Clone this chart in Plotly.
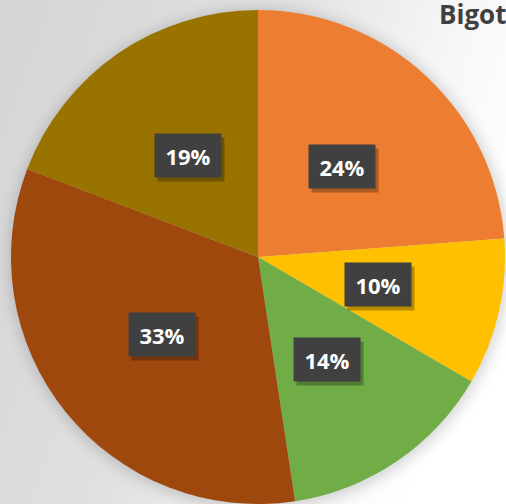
import math
import urllib.parse
import plotly.graph_objects as go

# Data
categories = ["A", "B", "C", "D", "E"]
values = [23.8, 9.6, 14.2, 33.2, 19.2]
colors = ["#ED7D31", "#FFC000", "#70AD47", "#9E480E", "#997300"]
title_text = "Bigot"

W, H = 506, 504
# pie domain (paper coords)
dom_x = [10 / W, 1.0]
dom_y = [0.0, 494 / H]

fig = go.Figure(go.Pie(
    labels=categories,
    values=values,
    sort=False,
    direction="clockwise",
    rotation=0,
    marker=dict(colors=colors, line=dict(width=0)),
    textinfo="none",
    hoverinfo="label+percent",
    showlegend=False,
    domain=dict(x=dom_x, y=dom_y),
))

# pie geometry in pixels
r_px = min((dom_x[1] - dom_x[0]) * W, (dom_y[1] - dom_y[0]) * H) / 2
cx_px = (dom_x[0] + dom_x[1]) / 2 * W
cy_px = (1 - (dom_y[0] + dom_y[1]) / 2) * H

# background: gradient + soft shadow around pie
svg = f"""<svg xmlns='http://www.w3.org/2000/svg' width='{W}' height='{H}' viewBox='0 0 {W} {H}'>
<defs>
<linearGradient id='g' x1='0' y1='0.1' x2='1' y2='0.45'>
<stop offset='0' stop-color='#d5d5d5'/>
<stop offset='0.45' stop-color='#e0e0e0'/>
<stop offset='0.8' stop-color='#f7f7f7'/>
<stop offset='1' stop-color='#ffffff'/>
</linearGradient>
<filter id='b' x='-20%' y='-20%' width='140%' height='140%'><feGaussianBlur stdDeviation='7'/></filter>
</defs>
<rect width='{W}' height='{H}' fill='url(#g)'/>
<circle cx='{cx_px + 1:.1f}' cy='{cy_px + 2:.1f}' r='{r_px + 3:.1f}' fill='#000' fill-opacity='0.16' filter='url(#b)'/>
</svg>"""
src = "data:image/svg+xml;charset=utf-8," + urllib.parse.quote(svg)

total = sum(values)
annotations = []
cum = 0.0
for v in values:
    mid = (cum + v / 2) / total * 2 * math.pi
    cum += v
    lx = cx_px + 0.5 * r_px * math.sin(mid)
    ly = cy_px - 0.5 * r_px * math.cos(mid)
    txt = f"{round(v / total * 100):d}%"
    # shadow
    annotations.append(dict(
        x=lx / W, y=1 - ly / H, xref="paper", yref="paper",
        xanchor="center", yanchor="middle",
        text=" ", showarrow=False, width=64, height=41,
        bgcolor="rgba(0,0,0,0.28)", xshift=3, yshift=-4,
    ))
    annotations.append(dict(
        x=lx / W, y=1 - ly / H, xref="paper", yref="paper",
        xanchor="center", yanchor="middle",
        text=f"<b>{txt}</b>", showarrow=False, width=64, height=41,
        align="center", valign="middle",
        bgcolor="#404040",
        font=dict(family="Open Sans", size=22, color="#ffffff"),
    ))

annotations.append(dict(
    x=437 / W, y=1.0, xref="paper", yref="paper",
    xanchor="left", yanchor="top", showarrow=False, yshift=6,
    text=f"<b>{title_text}</b>",
    font=dict(family="Open Sans", size=26, color="#404040"),
))

fig.update_layout(
    width=W, height=H,
    margin=dict(l=0, r=0, t=0, b=0),
    paper_bgcolor="#e6e6e6",
    images=[dict(source=src, xref="paper", yref="paper", x=0, y=1,
                 sizex=1, sizey=1, sizing="stretch", layer="below",
                 xanchor="left", yanchor="top")],
    annotations=annotations,
)

fig.write_html(
    "out.html",
    config={"displayModeBar": False},
    post_script="document.body.style.margin='0';document.body.style.overflow='hidden';",
)
